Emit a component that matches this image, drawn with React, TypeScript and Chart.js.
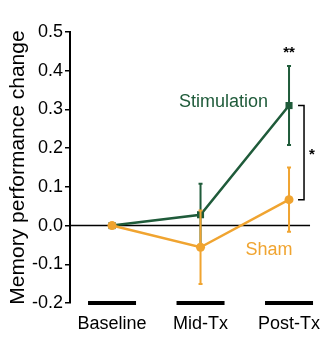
import React, { useEffect, useRef } from "react";
import { Chart, registerables } from "chart.js";

Chart.register(...registerables);

const categories = ["Baseline", "Mid-Tx", "Post-Tx"];
const stimMean = [0, 0.028, 0.31];
const stimErr = [0, 0.08, 0.102];
const shamMean = [0, -0.056, 0.067];
const shamErr = [0, 0.095, 0.083];
const yTicks = [-0.2, -0.1, 0, 0.1, 0.2, 0.3, 0.4, 0.5];
const yTitle = "Memory performance change";
const stimLabel = "Stimulation";
const shamLabel = "Sham";
const sigPost = "**";
const sigBracket = "*";

const GREEN = "#1f5b3a";
const ORANGE = "#f0a430";
const FONT = "'Liberation Sans', Arial, Helvetica, sans-serif";

export default function App() {
  const ref = useRef<HTMLCanvasElement | null>(null);

  useEffect(() => {
    document.body.style.margin = "0";
    const canvas = ref.current;
    if (!canvas) return;

    const errs = [shamErr, stimErr];
    const means = [shamMean, stimMean];
    const cols = [ORANGE, GREEN];

    const plugin = {
      id: "extras",
      beforeDatasetsDraw(chart: any) {
        const { ctx, chartArea } = chart;
        const xs = chart.scales.x;
        const ys = chart.scales.y;
        const y0 = ys.getPixelForValue(0);
        ctx.save();
        ctx.strokeStyle = "#000";
        ctx.lineWidth = 1.5;
        ctx.beginPath();
        ctx.moveTo(chartArea.left, y0);
        ctx.lineTo(xs.getPixelForValue(2) + 21, y0);
        ctx.stroke();
        ctx.restore();
      },
      afterDatasetDraw(chart: any, args: any) {
        const i = args.index;
        const { ctx } = chart;
        const xs = chart.scales.x;
        const ys = chart.scales.y;
        ctx.save();
        ctx.strokeStyle = cols[i];
        ctx.lineWidth = 2;
        means[i].forEach((m, k) => {
          const e = errs[i][k];
          if (!e) return;
          const x = xs.getPixelForValue(k);
          const yt = ys.getPixelForValue(m + e);
          const yb = ys.getPixelForValue(m - e);
          ctx.beginPath();
          ctx.moveTo(x, yt);
          ctx.lineTo(x, yb);
          ctx.moveTo(x - 2, yt);
          ctx.lineTo(x + 2, yt);
          ctx.moveTo(x - 2, yb);
          ctx.lineTo(x + 2, yb);
          ctx.stroke();
        });
        ctx.restore();
      },
      afterDraw(chart: any) {
        const { ctx, chartArea } = chart;
        const xs = chart.scales.x;
        const ys = chart.scales.y;
        ctx.save();
        // category bars
        ctx.fillStyle = "#000";
        categories.forEach((_, k) => {
          const x = xs.getPixelForValue(k);
          ctx.fillRect(x - 24, chartArea.bottom - 2, 48, 4);
        });
        // labels
        ctx.font = `18px ${FONT}`;
        ctx.textBaseline = "middle";
        ctx.fillStyle = GREEN;
        ctx.textAlign = "right";
        ctx.fillText(stimLabel, xs.getPixelForValue(2) - 21, ys.getPixelForValue(0.318));
        ctx.fillStyle = ORANGE;
        ctx.textAlign = "center";
        ctx.fillText(shamLabel, xs.getPixelForValue(2) - 20, ys.getPixelForValue(-0.062));
        // significance
        ctx.fillStyle = "#000";
        ctx.font = `bold 15px ${FONT}`;
        const xp = xs.getPixelForValue(2);
        ctx.fillText(sigPost, xp, ys.getPixelForValue(0.445));
        const yA = ys.getPixelForValue(stimMean[2]);
        const yB = ys.getPixelForValue(shamMean[2]);
        ctx.strokeStyle = "#000";
        ctx.lineWidth = 1.5;
        ctx.beginPath();
        ctx.moveTo(xp + 9, yA);
        ctx.lineTo(xp + 15, yA);
        ctx.lineTo(xp + 15, yB);
        ctx.lineTo(xp + 9, yB);
        ctx.stroke();
        ctx.fillText(sigBracket, xp + 23, (yA + yB) / 2 + 2);
        ctx.restore();
      },
    };

    const chart = new Chart(canvas, {
      type: "line",
      data: {
        datasets: [
          {
            label: shamLabel,
            data: shamMean.map((v, i) => ({ x: i, y: v })),
            borderColor: ORANGE,
            backgroundColor: ORANGE,
            borderWidth: 2.5,
            pointStyle: "circle",
            pointRadius: 4.5,
            pointBorderWidth: 0,
          },
          {
            label: stimLabel,
            data: stimMean.map((v, i) => ({ x: i, y: v })),
            borderColor: GREEN,
            backgroundColor: GREEN,
            borderWidth: 2.5,
            pointStyle: "rect",
            pointRadius: 5,
            pointBorderWidth: 0,
          },
        ],
      },
      options: {
        responsive: false,
        animation: false,
        layout: { padding: { top: 32, right: 12, left: 0, bottom: 0 } },
        plugins: { legend: { display: false }, tooltip: { enabled: false } },
        scales: {
          x: {
            type: "linear",
            min: -0.475,
            max: 2.35,
            afterBuildTicks: (s: any) => {
              s.ticks = categories.map((_, i) => ({ value: i }));
            },
            afterFit: (s: any) => {
              s.height = 35;
            },
            grid: { display: false },
            border: { display: false },
            ticks: {
              callback: (v: any) => categories[v] ?? "",
              font: { size: 18, family: FONT },
              color: "#000",
              padding: 2,
              maxRotation: 0,
            },
          },
          y: {
            min: -0.2,
            max: 0.5,
            afterBuildTicks: (s: any) => {
              s.ticks = yTicks.map((v) => ({ value: v }));
            },
            afterFit: (s: any) => {
              s.width = 70;
            },
            grid: {
              drawOnChartArea: false,
              drawTicks: true,
              tickLength: 5,
              color: "#000",
              lineWidth: 1.5,
            },
            border: { display: true, color: "#000", width: 2 },
            ticks: {
              callback: (v: any) => Number(v).toFixed(1),
              font: { size: 18, family: FONT },
              color: "#000",
              padding: 2,
            },
            title: {
              display: true,
              text: yTitle,
              font: { size: 21, family: FONT },
              color: "#000",
              padding: { top: 6, bottom: 0 },
            },
          },
        },
      },
      plugins: [plugin],
    });

    return () => chart.destroy();
  }, []);

  return (
    <div style={{ position: "absolute", left: 0, top: 0, width: 332, height: 338, background: "#fff" }}>
      <canvas ref={ref} width={332} height={338} />
    </div>
  );
}
